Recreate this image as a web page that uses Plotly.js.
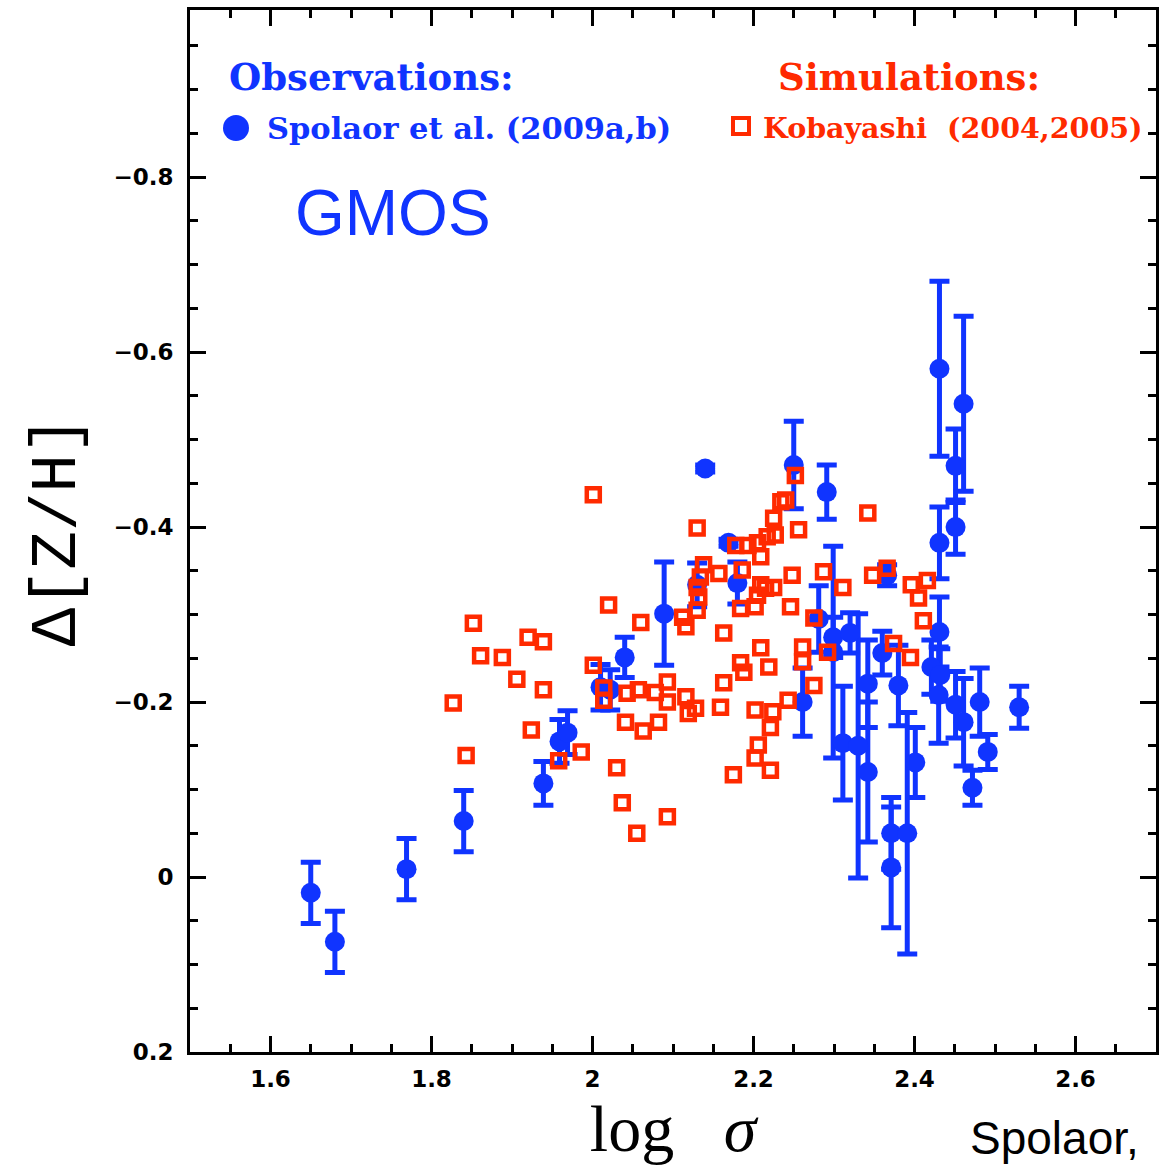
<!DOCTYPE html>
<html>
<head>
<meta charset="utf-8">
<script src="https://cdn.plot.ly/plotly-3.0.1.min.js"></script>
<style>html,body{margin:0;padding:0;background:#fff;}#chart{width:1160px;height:1168px;}</style>
</head>
<body>
<div id="chart"></div>
<script>
// Observations (Spolaor et al. 2009a,b): log sigma, Delta[Z/H], error
const obsX = [1.650,1.680,1.769,1.840,1.939,1.959,1.969,2.010,2.022,2.040,2.089,2.130,2.140,2.169,2.180,2.250,2.291,2.261,2.281,2.299,2.299,2.320,2.342,2.360,2.380,2.311,2.330,2.342,2.401,2.371,2.391,2.371,2.431,2.461,2.451,2.451,2.431,2.431,2.421,2.430,2.432,2.451,2.461,2.481,2.491,2.472,2.530,2.366];
const obsY = [0.018,0.074,-0.009,-0.064,-0.107,-0.155,-0.165,-0.217,-0.214,-0.251,-0.301,-0.334,-0.467,-0.382,-0.336,-0.471,-0.440,-0.200,-0.295,-0.274,-0.257,-0.279,-0.221,-0.256,-0.219,-0.153,-0.150,-0.120,-0.131,-0.050,-0.050,-0.011,-0.581,-0.541,-0.470,-0.400,-0.382,-0.280,-0.240,-0.208,-0.231,-0.197,-0.177,-0.200,-0.143,-0.102,-0.194,-0.345];
const obsErr = [0.035,0.035,0.035,0.035,0.025,0.025,0.025,0.026,0.023,0.023,0.059,0.025,0.004,0.004,0.024,0.050,0.031,0.039,0.038,0.023,0.121,0.023,0.050,0.025,0.046,0.065,0.151,0.080,0.040,0.041,0.138,0.069,0.100,0.100,0.042,0.031,0.041,0.040,0.031,0.055,0.030,0.038,0.050,0.039,0.020,0.020,0.024,0.012];

// Simulations (Kobayashi 2004,2005)
const simX = [2.001,1.827,1.843,1.852,1.861,1.888,1.906,1.920,1.939,1.939,1.924,1.958,1.986,2.001,2.020,2.014,2.014,2.030,2.037,2.055,2.041,2.043,2.057,2.060,2.063,2.078,2.082,2.093,2.093,2.093,2.112,2.116,2.116,2.119,2.128,2.130,2.132,2.130,2.134,2.138,2.130,2.157,2.159,2.163,2.163,2.184,2.188,2.209,2.219,2.178,2.193,2.205,2.209,2.217,2.227,2.225,2.234,2.240,2.252,2.256,2.186,2.209,2.215,2.225,2.205,2.202,2.184,2.246,2.248,2.287,2.342,2.348,2.366,2.311,2.275,2.292,2.261,2.261,2.275,2.243,2.202,2.224,2.221,2.206,2.202,2.221,2.175,2.374,2.395,2.396,2.405,2.416,2.411];
const simY = [-0.437,-0.199,-0.139,-0.290,-0.253,-0.251,-0.226,-0.274,-0.269,-0.214,-0.168,-0.133,-0.143,-0.242,-0.311,-0.216,-0.202,-0.125,-0.085,-0.050,-0.177,-0.210,-0.214,-0.291,-0.167,-0.211,-0.177,-0.223,-0.200,-0.069,-0.297,-0.286,-0.206,-0.187,-0.193,-0.305,-0.320,-0.331,-0.343,-0.357,-0.399,-0.347,-0.194,-0.222,-0.279,-0.245,-0.234,-0.262,-0.240,-0.379,-0.379,-0.382,-0.366,-0.389,-0.391,-0.410,-0.429,-0.431,-0.459,-0.397,-0.351,-0.334,-0.330,-0.331,-0.322,-0.309,-0.307,-0.309,-0.345,-0.349,-0.416,-0.345,-0.353,-0.331,-0.296,-0.257,-0.263,-0.246,-0.219,-0.202,-0.191,-0.189,-0.171,-0.151,-0.136,-0.122,-0.117,-0.267,-0.251,-0.334,-0.319,-0.339,-0.293];

const xTickVals = [1.6,1.8,2.0,2.2,2.4,2.6];
const xTickText = ['1.6','1.8','2','2.2','2.4','2.6'];
const yTickVals = [-0.8,-0.6,-0.4,-0.2,0,0.2];
const yTickText = ['\u22120.8','\u22120.6','\u22120.4','\u22120.2','0','0.2'];

const BLUE = '#1034ff';
const RED = '#ff2a00';

const traces = [
  {
    type: 'scatter', mode: 'markers', name: 'Spolaor et al. (2009a,b)',
    x: obsX, y: obsY,
    error_y: {type: 'data', array: obsErr, visible: true, color: BLUE, thickness: 5, width: 10},
    marker: {symbol: 'circle', size: 20, color: BLUE, line: {width: 0}},
    showlegend: false
  },
  {
    type: 'scatter', mode: 'markers', name: 'Kobayashi (2004,2005)',
    x: simX, y: simY,
    marker: {symbol: 'square-open', size: 13, color: RED, line: {width: 4.5, color: RED}},
    showlegend: false
  }
];

// plot area in pixels: x 190..1156, y 10..1052
const L = 190, R = 1156, T = 10, B = 1052;
const px = v => (v - L) / (R - L);
const py = v => (B - v) / (B - T);

const tickFont = {family: 'DejaVu Sans', size: 23, color: '#000', weight: 700};
const legFont = (c, s) => ({family: 'DejaVu Serif', size: s, color: c, weight: 700});

const layout = {
  width: 1160, height: 1168,
  margin: {l: 190, r: 4, t: 10, b: 116},
  paper_bgcolor: '#fff', plot_bgcolor: '#fff',
  showlegend: false,
  xaxis: {
    range: [1.5, 2.7], showgrid: false, zeroline: false,
    showline: true, linecolor: '#000', linewidth: 3, mirror: 'ticks',
    ticks: 'inside', ticklen: 16, tickwidth: 3, tickcolor: '#000',
    tickvals: xTickVals, ticktext: xTickText, tickfont: tickFont,
    ticklabelstandoff: 4,
    minor: {dtick: 0.05, tick0: 1.5, ticks: 'inside', ticklen: 8, tickwidth: 3, tickcolor: '#000', showgrid: false},
    title: {text: 'log&nbsp;&nbsp; <i>σ</i>', font: {family: 'Liberation Serif', size: 66, color: '#000'}, standoff: 6}
  },
  yaxis: {
    range: [0.2, -0.991], showgrid: false, zeroline: false,
    showline: true, linecolor: '#000', linewidth: 3, mirror: 'ticks',
    ticks: 'inside', ticklen: 16, tickwidth: 3, tickcolor: '#000',
    tickvals: yTickVals, ticktext: yTickText, tickfont: tickFont,
    ticklabelstandoff: 9,
    minor: {dtick: 0.05, tick0: 0, ticks: 'inside', ticklen: 8, tickwidth: 3, tickcolor: '#000', showgrid: false},
    title: {text: 'Δ[Z/H]', font: {family: 'Liberation Mono', size: 64, color: '#000'}, standoff: 17}
  },
  shapes: [
    {type: 'circle', xref: 'paper', yref: 'paper', x0: px(223), x1: px(249), y0: py(141), y1: py(115),
     fillcolor: BLUE, line: {width: 0}},
    {type: 'rect', xref: 'paper', yref: 'paper', x0: px(733), x1: px(749), y0: py(134), y1: py(118),
     fillcolor: 'rgba(0,0,0,0)', line: {width: 4, color: RED}}
  ],
  annotations: [
    {xref: 'paper', yref: 'paper', x: px(371), y: py(77), text: 'Observations:', showarrow: false,
     xanchor: 'center', yanchor: 'middle', font: legFont(BLUE, 37)},
    {xref: 'paper', yref: 'paper', x: px(265), y: py(128), text: 'Spolaor et al. (2009a,b)', showarrow: false,
     xanchor: 'left', yanchor: 'middle', font: legFont(BLUE, 30.5)},
    {xref: 'paper', yref: 'paper', x: px(909), y: py(77), text: 'Simulations:', showarrow: false,
     xanchor: 'center', yanchor: 'middle', font: legFont(RED, 37)},
    {xref: 'paper', yref: 'paper', x: px(761), y: py(128), text: 'Kobayashi  (2004,2005)', showarrow: false,
     xanchor: 'left', yanchor: 'middle', font: legFont(RED, 28.5)},
    {xref: 'paper', yref: 'paper', x: px(393), y: py(213), text: 'GMOS', showarrow: false,
     xanchor: 'center', yanchor: 'middle', font: {family: 'Liberation Sans', size: 64, color: BLUE}},
    {xref: 'paper', yref: 'paper', x: px(968), y: py(1138), text: 'Spolaor,', showarrow: false,
     xanchor: 'left', yanchor: 'middle', font: {family: 'Liberation Sans', size: 46, color: '#000'}}
  ]
};

Plotly.newPlot('chart', traces, layout, {displayModeBar: false, staticPlot: true});
</script>
</body>
</html>
